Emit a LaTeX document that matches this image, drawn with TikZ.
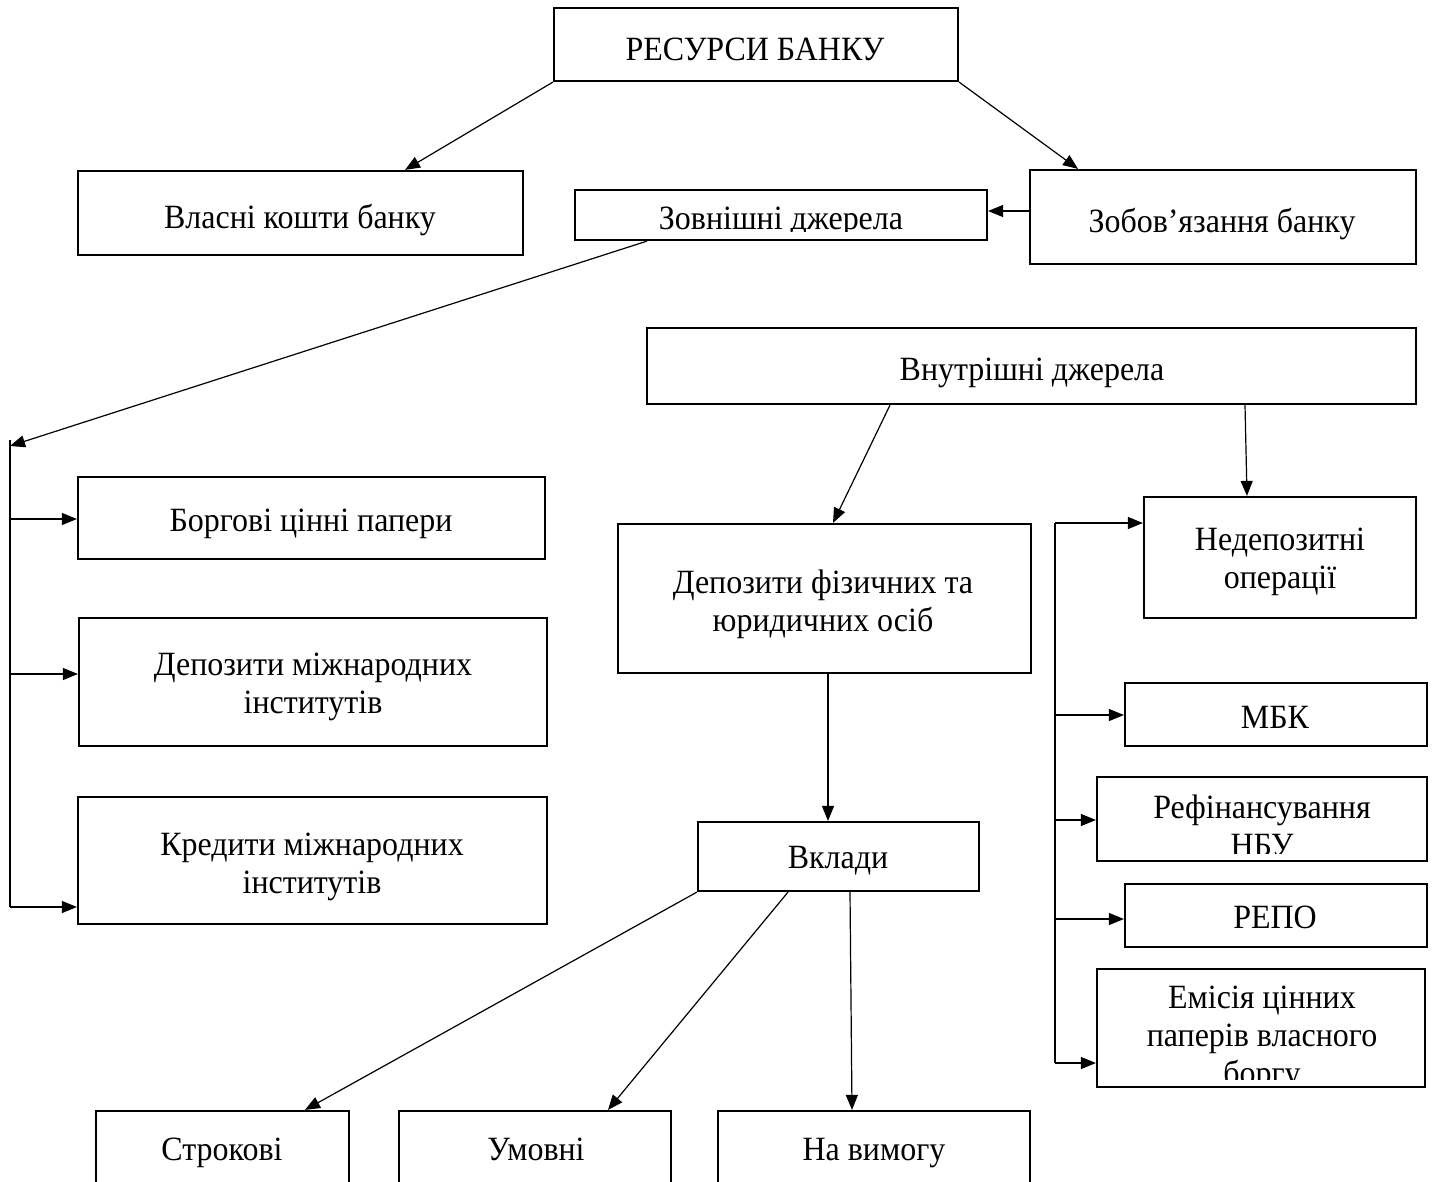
\documentclass[tikz,border=0pt]{standalone}
\usepackage{fontspec}
\setmainfont{Liberation Serif}[FakeStretch=0.94]
\usetikzlibrary{arrows.meta,fit,calc}
\tikzset{
  box/.style={draw, line width=1.1pt, inner sep=0pt},
  lbl/.style={font=\fontsize{17}{19}\selectfont, align=center, inner sep=0pt},
  conn/.style={line width=0.6pt, -{Triangle[length=7.5pt,width=6pt]}},
  plainln/.style={line width=0.6pt}
}
\newcommand\mybox[8]{%
  \begin{scope}
    \clip (#2,#3+8) rectangle (#4,#5-8);
    \node[lbl] (#1t) at (#6,#7) {\strut #8\strut};
  \end{scope}
  \node[box, fit={(#2,#3) (#4,#5)}] (#1) {};
}
\begin{document}
\begin{tikzpicture}[x=0.5pt,y=-0.5pt]
\useasboundingbox (0,0) rectangle (1434,1182);
\fill[white] (0,0) rectangle (1434,1182);

\mybox{res}{554}{8}{958}{81}{755}{53}{РЕСУРСИ БАНКУ}
\mybox{vlas}{78}{171}{523}{255}{300}{221}{Власні кошти банку}
\mybox{zovn}{575}{190}{987}{240}{781}{222}{Зовнішні джерела}
\mybox{zob}{1030}{170}{1416}{264}{1222}{225}{Зобов’язання банку}
\mybox{vnut}{647}{328}{1416}{404}{1032}{373}{Внутрішні джерела}
\mybox{borg}{78}{477}{545}{559}{311}{524}{Боргові цінні папери}
\mybox{depm}{79}{618}{547}{746}{313}{687}{Депозити міжнародних\\інститутів}
\mybox{kred}{78}{797}{547}{924}{312}{867}{Кредити міжнародних\\інститутів}
\mybox{depf}{618}{524}{1031}{673}{823}{605}{Депозити фізичних та\\юридичних осіб}
\mybox{nedep}{1144}{497}{1416}{618}{1280}{562}{Недепозитні\\операції}
\mybox{mbk}{1125}{683}{1427}{746}{1275}{721}{МБК}
\mybox{refin}{1097}{777}{1427}{861}{1262}{830}{Рефінансування\\НБУ}
\mybox{repo}{1125}{884}{1427}{947}{1275}{921}{РЕПО}
\mybox{emis}{1097}{969}{1425}{1087}{1262}{1039}{Емісія цінних\\паперів власного\\боргу}
\mybox{vkl}{698}{822}{979}{891}{838}{861}{Вклади}
\mybox{str}{96}{1111}{349}{1220}{222}{1153}{Строкові}
\mybox{umov}{399}{1111}{671}{1220}{536}{1153}{Умовні}
\mybox{navym}{718}{1111}{1030}{1220}{874}{1153}{На вимогу}

% top level
\draw[conn] (res.south west) -- (405,0 |- vlas.north);
\draw[conn] (res.south east) -- (1078,0 |- zob.north);
\draw[conn] (zob.west |- 0,211) -- (zovn.east |- 0,211);

% left bracket
\coordinate (ltop) at (10,440);
\coordinate (lbot) at (10,907);
\draw[conn] (647,0 |- zovn.south) -- (10,446);
\draw[plainln] (ltop) -- (lbot);
\draw[conn] (ltop |- 0,519) -- (borg.west |- 0,519);
\draw[conn] (ltop |- 0,674) -- (depm.west |- 0,674);
\draw[conn] (lbot) -- (kred.west |- lbot);

% internal sources
\draw[conn] (890,0 |- vnut.south) -- (833,0 |- depf.north);
\draw[conn] (1245,0 |- vnut.south) -- (1247,0 |- nedep.north);
\draw[conn] (828,0 |- depf.south) -- (828,0 |- vkl.north);

% deposits
\draw[conn] (vkl.south west) -- (305,0 |- str.north);
\draw[conn] (788,0 |- vkl.south) -- (608,0 |- umov.north);
\draw[conn] (850,0 |- vkl.south) -- (852,0 |- navym.north);

% right bracket
\coordinate (rtop) at (1055,523);
\coordinate (rbot) at (1055,1063);
\draw[plainln] (rtop) -- (rbot);
\draw[conn] (rtop) -- (nedep.west |- rtop);
\draw[conn] (rtop |- 0,715) -- (mbk.west |- 0,715);
\draw[conn] (rtop |- 0,820) -- (refin.west |- 0,820);
\draw[conn] (rtop |- 0,919) -- (repo.west |- 0,919);
\draw[conn] (rbot) -- (emis.west |- rbot);
\end{tikzpicture}
\end{document}
